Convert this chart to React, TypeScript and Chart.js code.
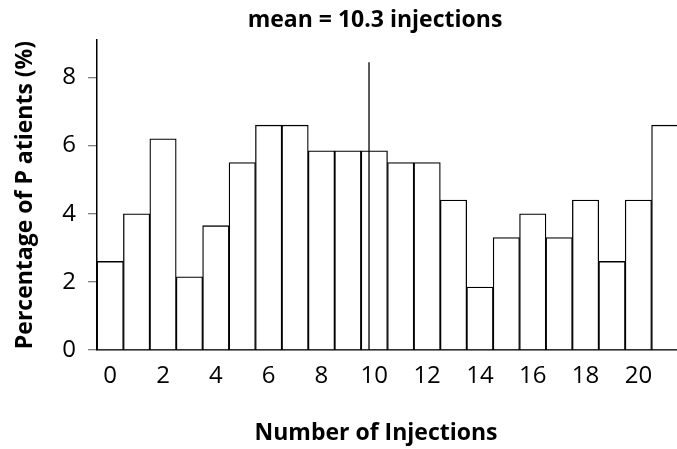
import { useEffect, useRef } from 'react';
import { Chart, registerables } from 'chart.js';

Chart.register(...registerables);

// ---- data ----
const binStarts = [0, 1, 2, 3, 4, 5, 6, 7, 8, 9, 10, 11, 12, 13, 14, 15, 16, 17, 18, 19, 20, 21];
const percentages = [2.6, 4.0, 6.2, 2.15, 3.65, 5.5, 6.6, 6.6, 5.85, 5.85, 5.85, 5.5, 5.5, 4.4, 1.85, 3.3, 4.0, 3.3, 4.4, 2.6, 4.4, 6.6];
const xTickLabels = ['0', '2', '4', '6', '8', '10', '12', '14', '16', '18', '20'];
const yTickValues = [0, 2, 4, 6, 8];
const meanValue = 10.3;
const meanLineTop = 8.45;
const chartTitle = 'mean = 10.3 injections';
const xTitle = 'Number of Injections';
const yTitle = 'Percentage of P atients (%)';

const FONT = "'Open Sans', 'DejaVu Sans', sans-serif";

const titlesPlugin = {
  id: 'titlesPlugin',
  afterDraw(chart: any) {
    const ctx = chart.ctx;
    ctx.save();
    ctx.fillStyle = '#000';
    ctx.font = `bold 23px ${FONT}`;
    ctx.textAlign = 'center';
    ctx.textBaseline = 'middle';
    ctx.fillText(chartTitle, 375, 20);
    ctx.fillText(xTitle, 376, 433);
    ctx.restore();
  },
};

export default function App() {
  const canvasRef = useRef<HTMLCanvasElement | null>(null);

  useEffect(() => {
    const canvas = canvasRef.current;
    if (!canvas) return;
    const chart = new Chart(canvas, {
      type: 'bar',
      data: {
        datasets: [
          {
            type: 'line',
            data: [
              { x: meanValue, y: 0 },
              { x: meanValue, y: meanLineTop },
            ],
            borderColor: '#000',
            borderWidth: 1.3,
            pointRadius: 0,
            order: 0,
          } as any,
          {
            type: 'bar',
            data: binStarts.map((b, i) => ({ x: b + 0.5, y: percentages[i] })),
            backgroundColor: '#fff',
            borderColor: '#000',
            borderWidth: 1.3,
            barPercentage: 1,
            categoryPercentage: 1,
            order: 1,
          } as any,
        ],
      },
      options: {
        responsive: false,
        animation: false,
        devicePixelRatio: 1,
        layout: { padding: { top: 40, right: 72, bottom: 0, left: 0 } },
        plugins: {
          legend: { display: false },
          tooltip: { enabled: false },
          title: { display: false },
        },
        scales: {
          x: {
            type: 'linear',
            min: 0,
            max: 22,
            offset: false,
            grid: { display: false, offset: false },
            border: { display: true, color: '#000', width: 1.5 },
            afterBuildTicks: (scale: any) => {
              scale.ticks = xTickLabels.map((l) => ({ value: Number(l) + 0.5 }));
            },
            afterFit: (scale: any) => {
              scale.height = 99;
            },
            ticks: {
              autoSkip: false,
              maxRotation: 0,
              padding: 4,
              color: '#000',
              font: { family: FONT, size: 24 },
              callback: (v: any) => String(Number(v) - 0.5),
            },
          },
          y: {
            min: 0,
            max: 9.1,
            grid: {
              display: true,
              drawOnChartArea: false,
              drawTicks: true,
              tickLength: 9,
              color: '#808080',
              lineWidth: 1.3,
            },
            border: { display: true, color: '#000', width: 1.5 },
            afterBuildTicks: (scale: any) => {
              scale.ticks = yTickValues.map((v) => ({ value: v }));
            },
            afterFit: (scale: any) => {
              scale.width = 97;
            },
            ticks: {
              padding: 12,
              color: '#000',
              font: { family: FONT, size: 24 },
            },
            title: {
              display: true,
              text: yTitle,
              color: '#000',
              font: { family: FONT, size: 23, weight: 'bold' },
              padding: { top: 12, bottom: 0 },
            },
          },
        },
      },
      plugins: [titlesPlugin],
    } as any);
    return () => chart.destroy();
  }, []);

  return (
    <div
      style={{
        position: 'absolute',
        left: 0,
        top: 0,
        width: 677,
        height: 449,
        overflow: 'hidden',
        background: '#fff',
      }}
    >
      <canvas ref={canvasRef} width={750} height={449} style={{ display: 'block' }} />
    </div>
  );
}
